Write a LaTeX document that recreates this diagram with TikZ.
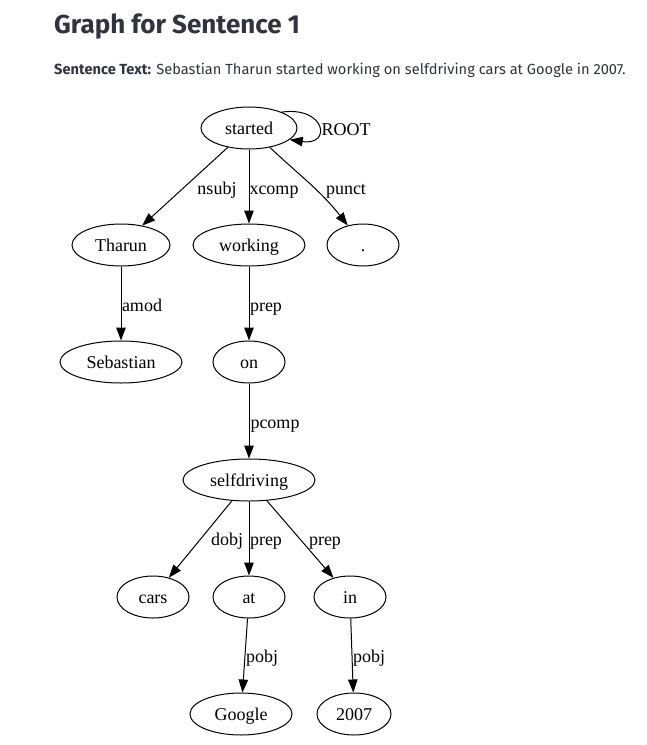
\documentclass[tikz,border=0pt]{standalone}
\usepackage{fontspec}
\setmainfont{Liberation Serif}
\newfontfamily\uifont{Fira Sans}
\usetikzlibrary{shapes.geometric,arrows.meta}
\definecolor{uitext}{HTML}{31333F}
\tikzset{
  dep/.style={ellipse, draw, line width=1pt, inner sep=0pt, minimum height=42pt, text height=12pt, text depth=0pt, font=\fontsize{18}{20}\selectfont},
  arr/.style={draw, line width=1pt, -{Triangle[length=13pt,width=9.5pt]}},
  lab/.style={font=\fontsize{18}{20}\selectfont, inner sep=0pt, text height=12pt, text depth=0pt, anchor=center},
}
\begin{document}
\begin{tikzpicture}[x=1pt,y=1pt]
\useasboundingbox (0,0) rectangle (646,-745);
\fill[white] (0,0) rectangle (646,-745);
% header
\node[anchor=base west, inner sep=0pt, text=uitext, font=\uifont\bfseries\fontsize{26}{30}\selectfont] (title) at (54,-33) {Graph for Sentence 1};
\node[anchor=base west, inner sep=0pt, text=uitext, font=\uifont\fontsize{14.65}{17}\selectfont] (sent) at (54,-74) {\textbf{Sentence Text:} Sebastian Tharun started working on selfdriving cars at Google in 2007.};
% nodes
\node[dep, minimum width=96pt] (started) at (249,-128) {started};
\node[dep, minimum width=98pt] (tharun) at (121,-245) {Tharun};
\node[dep, minimum width=112pt] (working) at (249,-245) {working};
\node[dep, minimum width=72pt] (dot) at (363,-245) {.};
\node[dep, minimum width=122pt] (sebastian) at (121,-362) {Sebastian};
\node[dep, minimum width=72pt] (on) at (249,-362) {on};
\node[dep, minimum width=132pt] (selfdriving) at (249,-480) {selfdriving};
\node[dep, minimum width=72pt] (cars) at (153,-597) {cars};
\node[dep, minimum width=72pt] (at) at (249,-597) {at};
\node[dep, minimum width=72pt] (in) at (350,-597) {in};
\node[dep, minimum width=102pt] (google) at (241,-714) {Google};
\node[dep, minimum width=74pt] (y2007) at (354,-714) {2007};
% edges
\draw[arr] (started.26) .. controls (326,-106) and (332,-146) .. (started.-16);
\node[lab] (lroot) at (346,-129) {ROOT};
\draw[arr] (started) -- (tharun);
\node[lab] (lnsubj) at (217,-188) {nsubj};
\draw[arr] (started) -- (working);
\node[lab] (lxcomp) at (274,-188) {xcomp};
\draw[arr] (started) to[out=-43,in=128] (dot);
\node[lab] (lpunct) at (346,-188) {punct};
\draw[arr] (tharun) -- (sebastian);
\node[lab] (lamod) at (142,-305) {amod};
\draw[arr] (working) -- (on);
\node[lab] (lprep1) at (266,-305) {prep};
\draw[arr] (on) -- (selfdriving);
\node[lab] (lpcomp) at (275,-422) {pcomp};
\draw[arr] (selfdriving) -- (cars);
\node[lab] (ldobj) at (227,-539) {dobj};
\draw[arr] (selfdriving) -- (at);
\node[lab] (lprep2) at (266,-539) {prep};
\draw[arr] (selfdriving) -- (in);
\node[lab] (lprep3) at (325,-539) {prep};
\draw[arr] (at) -- (google);
\node[lab] (lpobj1) at (262,-656) {pobj};
\draw[arr] (in) -- (y2007);
\node[lab] (lpobj2) at (369,-656) {pobj};
\end{tikzpicture}
\end{document}
